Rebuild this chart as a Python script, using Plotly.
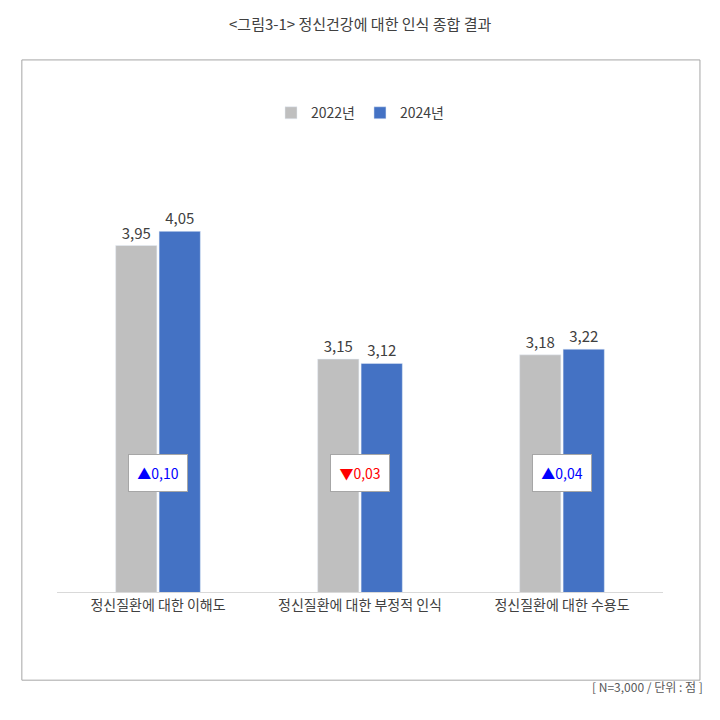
import plotly.graph_objects as go

categories = ["정신질환에 대한 이해도", "정신질환에 대한 부정적 인식", "정신질환에 대한 수용도"]
v2022 = [3.95, 3.15, 3.18]
v2024 = [4.05, 3.12, 3.22]
deltas = ["▲0,10", "▼0,03", "▲0,04"]
delta_colors = ["#0000FF", "#FF0000", "#0000FF"]

def fmt(v):
    return f"{v:.2f}".replace(".", ",")

F = "Noto Sans CJK KR"
fig = go.Figure()
fig.add_bar(name="2022년", x=categories, y=v2022, marker_color="#BFBFBF",
            text=[fmt(v) for v in v2022], textposition="outside",
            textfont=dict(size=15, color="#404040"), cliponaxis=False)
fig.add_bar(name="2024년", x=categories, y=v2024, marker_color="#4472C4",
            text=[fmt(v) for v in v2024], textposition="outside",
            textfont=dict(size=15, color="#404040"), cliponaxis=False)

for i, (d, c) in enumerate(zip(deltas, delta_colors)):
    fig.add_annotation(x=categories[i], y=0.235, yref="paper", text=d, showarrow=False,
                       font=dict(size=14, color=c, family=F), bgcolor="white",
                       bordercolor="#A6A6A6", borderwidth=1, width=56, height=34)

fig.add_shape(type="rect", xref="paper", yref="paper", x0=-0.058, x1=1.061,
              y0=-0.207, y1=1.249, line=dict(color="#A6A6A6", width=1))
fig.add_annotation(xref="paper", yref="paper", x=0.5, y=1.365, text="<그림3-1> 정신건강에 대한 인식 종합 결과",
                   showarrow=False, font=dict(size=15, color="#404040", family=F))
fig.add_annotation(xref="paper", yref="paper", x=1.07, xanchor="right", y=-0.247,
                   text="[ N=3,000 / 단위 : 점 ]", showarrow=False,
                   font=dict(size=12, color="#595959", family=F))

fig.update_layout(
    width=720, height=720, barmode="group", bargap=0.57, bargroupgap=0.05,
    margin=dict(l=49, r=65, t=158, b=136),
    paper_bgcolor="white", plot_bgcolor="white",
    font=dict(family=F, color="#404040"),
    legend=dict(orientation="h", x=0.5, xanchor="center", y=1.124, yanchor="middle",
                font=dict(size=14, color="#404040")),
    xaxis=dict(showline=True, linecolor="#D9D9D9", tickfont=dict(size=14, color="#404040"), ticks=""),
    yaxis=dict(range=[1.51, 4.51], visible=False, showgrid=False),
)
fig.write_html("out.html")
